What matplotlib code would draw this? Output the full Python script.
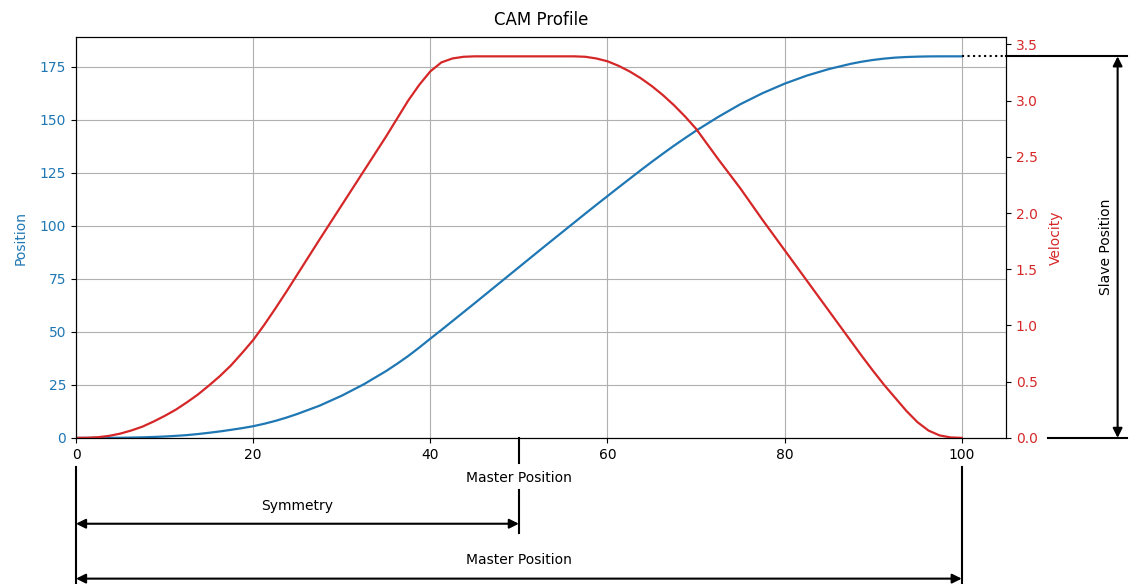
import matplotlib.pyplot as plt

# master axis samples (denser where the velocity bends)
master = [
    0, 1.25, 2.5, 3.75, 5, 6.25, 7.5, 8.75, 10, 11.25,
    12.5, 13.75, 15, 16.25, 17.5, 18.75, 20, 21.25, 22.5, 23.75,
    25, 27.5, 30, 32.5, 35, 36.25, 37.5, 38.75, 40, 41.25,
    42.5, 43.75, 45, 47.5, 50, 52.5, 55, 56.25, 57.5, 58.75,
    60, 61.25, 62.5, 63.75, 65, 66.25, 67.5, 68.75, 70, 72.5,
    75, 77.5, 80, 82.5, 85, 87.5, 88.75, 90, 91.25, 92.5,
    93.75, 95, 96.25, 97.5, 98.75, 100
]
position = [
    0.0, 0.002, 0.01, 0.03, 0.06, 0.14, 0.25, 0.43, 0.65, 0.95,
    1.3, 1.8, 2.4, 3.05, 3.8, 4.6, 5.5, 6.66, 8.0, 9.56,
    11.3, 15.2, 19.9, 25.3, 31.5, 34.95, 38.6, 42.6, 46.8, 50.9,
    55.1, 59.3, 63.5, 72.0, 80.5, 89.0, 97.4, 101.6, 105.8, 109.95,
    114.05, 118.15, 122.2, 126.25, 130.2, 134.05, 137.8, 141.4, 144.9, 151.4,
    157.4, 162.6, 167.1, 170.9, 174.0, 176.5, 177.5, 178.3, 178.93, 179.4,
    179.68, 179.85, 179.96, 180.0, 180.0, 180.0
]
velocity = [
    0.0, 0.001, 0.006, 0.018, 0.038, 0.066, 0.10, 0.145, 0.195, 0.25,
    0.315, 0.385, 0.465, 0.55, 0.645, 0.755, 0.87, 1.005, 1.15, 1.30,
    1.455, 1.765, 2.07, 2.375, 2.68, 2.84, 3.00, 3.14, 3.26, 3.34,
    3.375, 3.39, 3.394, 3.394, 3.394, 3.394, 3.394, 3.394, 3.39, 3.375,
    3.35, 3.31, 3.26, 3.20, 3.13, 3.05, 2.96, 2.86, 2.75, 2.48,
    2.22, 1.94, 1.67, 1.40, 1.13, 0.86, 0.725, 0.595, 0.47, 0.355,
    0.24, 0.14, 0.065, 0.022, 0.004, 0.0
]

master_range = 100
symmetry = 50
slave_range = 180


def dim_arrow(ax, start, end):
    ax.annotate(
        '', xy=end, xytext=start,
        arrowprops=dict(arrowstyle='<|-|>', color='black', lw=1.5,
                        shrinkA=0, shrinkB=0, mutation_scale=14),
        annotation_clip=False
    )


def plot_cam_profile():
    fig = plt.figure(figsize=(11.31, 5.84), dpi=100)
    ax = fig.add_axes([0.0672, 0.2502, 0.8223, 0.686])
    ax2 = ax.twinx()

    ax.plot(master, position, color='tab:blue', lw=1.6)
    ax2.plot(master, velocity, color='tab:red', lw=1.6)

    ax.set_xlim(0, master_range * 1.05)
    ax.set_ylim(0, max(position) * 1.05)
    ax2.set_ylim(0, max(velocity) * 1.05)
    ax.grid(True)

    ax.set_title('CAM Profile', pad=9)
    ax.set_xlabel('Master Position', x=symmetry / (master_range * 1.05),
                  labelpad=7)
    ax.set_ylabel('Position', color='tab:blue', labelpad=9)
    ax2.set_ylabel('Velocity', color='tab:red', labelpad=8)
    ax.tick_params(axis='y', labelcolor='tab:blue')
    ax2.tick_params(axis='y', labelcolor='tab:red')

    # slave stroke dimension on the right
    ax.plot([master_range, master_range * 1.05], [slave_range, slave_range],
            ':', color='black', lw=1.5, clip_on=False)
    ax.plot([105, 118.7], [slave_range, slave_range],
            color='black', lw=1.5, clip_on=False)
    ax.plot([109.7, 118.7], [0, 0], color='black', lw=1.5, clip_on=False)
    dim_arrow(ax, (117.6, 0), (117.6, slave_range))
    ax.text(116.3, slave_range / 2, 'Slave Position', rotation=90,
            ha='center', va='center', fontsize=10)

    # master stroke and symmetry dimensions below
    ax.plot([symmetry, symmetry], [0, -11.8], color='black', lw=1.5,
            clip_on=False)
    ax.plot([symmetry, symmetry], [-24.5, -44.8], color='black', lw=1.5,
            clip_on=False)
    ax.plot([0, 0], [-13.7, -75], color='black', lw=1.5, clip_on=False)
    ax.plot([master_range, master_range], [-13.7, -75], color='black',
            lw=1.5, clip_on=False)
    dim_arrow(ax, (0, -40.5), (symmetry, -40.5))
    ax.text(symmetry / 2, -32, 'Symmetry', ha='center', va='center',
            fontsize=10)
    dim_arrow(ax, (0, -66.4), (master_range, -66.4))
    ax.text(master_range / 2, -57.5, 'Master Position', ha='center',
            va='center', fontsize=10)

    fig.savefig('out.png', dpi=100)
    plt.close(fig)


plot_cam_profile()
